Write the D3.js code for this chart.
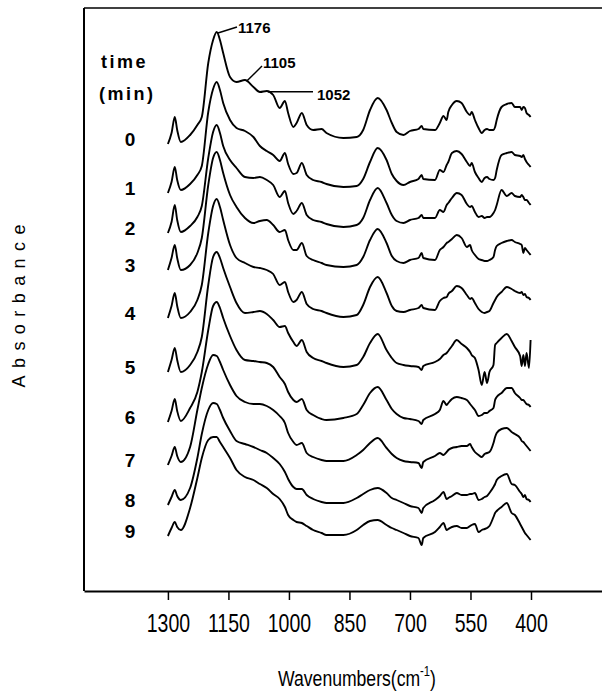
<!DOCTYPE html>
<html><head><meta charset="utf-8">
<script src="https://cdn.jsdelivr.net/npm/d3@7"></script>
<style>html,body{margin:0;padding:0;background:#fff;} svg{display:block;}</style>
</head><body>
<svg id="chart" width="602" height="692"></svg>
<script>
// Wavenumber grid (cm^-1), shared by all spectra
const wavenumbers = [
  1300,1291,1283,1277,1268,1245,1227,1216,1200,1188,
  1179,1171,1163,1146,1130,1109,1088,1072,1055,1039,
  1023,1010,1002,989,981,968,956,940,919,907,
  865,832,816,799,780,758,745,733,716,700,
  679,671,667,638,626,617,609,605,596,584,
  572,559,551,547,539,530,522,515,509,503,
  493,489,485,473,460,448,440,427,423,419,
  415,411,405,401];

// Absorbance (arbitrary units, stacked offsets included) for each time (min)
const spectrum0 = [
  456,467,483,470,458,465,475,483,537,560,
  568,560,547,523,518,520,513,508,509,505,
  492,499,487,473,477,487,475,470,471,467,
  462,463,470,490,502,490,477,468,465,469,
  471,474,471,470,477,484,480,488,495,499,
  497,488,485,488,480,472,467,470,471,470,
  470,473,480,493,496,497,493,493,490,493,
  492,487,485,483];
const spectrum1 = [
  407,418,433,420,410,416,425,434,488,511,
  518,510,497,480,472,469,463,454,449,445,
  439,447,436,426,427,437,425,420,418,416,
  413,414,421,438,452,440,426,419,415,418,
  421,425,421,420,430,428,435,438,447,449,
  446,438,434,437,428,422,418,422,423,421,
  420,422,430,445,447,448,445,444,443,445,
  441,438,435,433];
const spectrum2 = [
  367,378,395,380,368,374,383,394,442,468,
  475,467,454,440,432,423,422,423,420,415,
  403,409,397,386,389,397,385,380,378,376,
  373,375,382,400,412,397,385,379,377,380,
  382,385,382,382,390,388,395,397,402,407,
  405,396,393,394,388,383,384,382,383,383,
  387,390,395,410,404,407,404,403,405,403,
  400,400,397,395];
const spectrum3 = [
  330,342,355,342,330,335,347,362,415,442,
  448,440,427,405,393,382,377,379,380,375,
  368,370,360,350,350,357,344,340,337,335,
  333,335,343,360,371,357,344,339,337,340,
  342,347,342,340,350,353,357,358,361,365,
  362,353,355,350,345,341,340,339,339,340,
  343,350,354,357,359,360,358,356,355,347,
  352,350,347,345];
const spectrum4 = [
  282,294,307,294,282,288,300,315,367,394,
  401,393,380,355,342,337,333,332,330,326,
  315,318,308,298,300,308,296,291,289,287,
  283,285,295,313,323,307,294,289,288,290,
  292,295,292,290,299,302,303,306,309,314,
  312,305,301,302,297,291,288,287,288,289,
  297,300,303,308,313,311,309,307,308,305,
  306,303,302,300];
const spectrum5 = [
  228,240,252,240,228,235,248,263,315,343,
  348,342,332,313,297,287,288,289,286,280,
  273,274,267,258,254,260,248,242,239,237,
  233,235,243,257,266,250,242,237,235,234,
  233,230,234,238,241,245,247,249,254,260,
  256,252,248,245,242,230,215,228,217,228,
  235,255,257,262,266,259,253,244,234,245,
  234,247,232,260];
const spectrum6 = [
  178,189,201,189,179,192,208,228,270,294,
  298,292,282,264,250,240,239,238,237,233,
  223,216,208,200,198,201,190,185,181,180,
  182,186,195,207,213,200,191,186,182,181,
  179,176,180,186,190,199,195,197,201,203,
  202,200,196,194,190,184,185,187,187,189,
  192,200,203,207,212,212,207,202,200,200,
  198,196,195,193];
const spectrum7 = [
  135,144,153,144,138,153,190,212,236,245,
  244,238,230,215,204,198,196,196,194,190,
  184,177,167,158,155,157,147,143,140,139,
  139,145,150,157,162,152,146,142,139,138,
  137,132,138,144,147,145,148,150,152,153,
  154,154,156,153,148,145,143,146,147,148,
  157,163,167,171,172,168,166,162,159,158,
  156,154,151,149];
const spectrum8 = [
  95,103,110,104,100,112,142,166,190,197,
  196,190,182,169,159,156,153,150,147,142,
  136,128,121,113,111,111,105,101,98,97,
  97,102,106,110,112,107,102,100,97,94,
  92,87,92,100,104,108,101,102,104,107,
  105,105,106,106,107,100,101,103,104,107,
  113,116,120,124,126,116,115,108,106,103,
  105,101,100,98];
const spectrum9 = [
  64,72,78,73,70,92,122,142,160,163,
  163,158,153,142,130,123,120,116,112,106,
  101,93,85,80,78,77,74,70,67,65,
  65,70,75,79,80,75,72,70,67,64,
  62,55,62,68,73,77,70,71,73,74,
  72,72,74,75,76,68,70,71,72,74,
  83,87,89,93,97,87,85,76,73,70,
  67,65,62,60];

const timeLabels = ["0","1","2","3","4","5","6","7","8","9"];
const tickValues = [1300,1150,1000,850,700,550,400];
const peakLabels = [1176,1105,1052];

const series = [spectrum0,spectrum1,spectrum2,spectrum3,spectrum4,
                spectrum5,spectrum6,spectrum7,spectrum8,spectrum9];

const svg = d3.select("#chart");
const x = d3.scaleLinear().domain([1508, 224]).range([84, 602]);
const y = d3.scaleLinear().domain([0, 600]).range([600, 0]);
const plotTop = 8, plotBottom = 591, plotLeft = 84, plotRight = 602;

// frame (left + top)
svg.append("line").attr("x1",plotLeft).attr("y1",plotTop).attr("x2",plotLeft).attr("y2",plotBottom)
  .attr("stroke","#000").attr("stroke-width",2);
svg.append("line").attr("x1",plotLeft).attr("y1",plotTop).attr("x2",plotRight).attr("y2",plotTop)
  .attr("stroke","#000").attr("stroke-width",1.5);

// bottom axis
const axis = d3.axisBottom(x).tickValues(tickValues).tickSize(9).tickSizeOuter(0)
  .tickPadding(14).tickFormat(d3.format("d"));
const gx = svg.append("g").attr("transform",`translate(0,${plotBottom})`).call(axis);
gx.select(".domain").attr("stroke","#000").attr("stroke-width",2);
gx.selectAll(".tick line").attr("stroke","#000").attr("stroke-width",1.5);
gx.selectAll(".tick text")
  .attr("font-family","'Liberation Sans', Arial, sans-serif")
  .attr("font-size",25).attr("fill","#000")
  .attr("transform","scale(0.78,1)");

// spectra
const line = d3.line()
  .x((d,i)=>x(wavenumbers[i]))
  .y(d=>y(d))
  .curve(d3.curveMonotoneX);
svg.append("g").selectAll("path").data(series).join("path")
  .attr("d",line).attr("fill","none").attr("stroke","#000")
  .attr("stroke-width",1.9).attr("stroke-linejoin","round");

// time labels
const boldFont = "'Liberation Sans', Arial, Helvetica, sans-serif";
svg.append("text").attr("x",101).attr("y",68).text("time")
  .attr("font-family",boldFont).attr("font-weight","bold").attr("font-size",18)
  .attr("letter-spacing",2.5);
svg.append("text").attr("x",99).attr("y",100).text("(min)")
  .attr("font-family",boldFont).attr("font-weight","bold").attr("font-size",18)
  .attr("letter-spacing",2.5);
svg.append("g").selectAll("text").data(series).join("text")
  .attr("x",130).attr("y",d=>y(d[0])+2)
  .attr("text-anchor","middle")
  .attr("font-family",boldFont).attr("font-weight","bold").attr("font-size",19)
  .text((d,i)=>timeLabels[i]);

// peak annotations on the 0 min spectrum
function valueAt(s, w){
  for(let i=0;i<wavenumbers.length-1;i++){
    const a=wavenumbers[i], b=wavenumbers[i+1];
    if(w<=a && w>=b){ const t=(a-w)/(a-b); return s[i]+(s[i+1]-s[i])*t; }
  }
  return s[0];
}
const annLayout = [
  {ex:237, ey:27, tx:238, ty:33},
  {ex:262, ey:66, tx:263, ty:68},
  {ex:313, ey:null, tx:317, ty:100}
];
peakLabels.forEach((w,i)=>{
  const ax = x(w), ay = y(valueAt(spectrum0,w)) - (i===0?2:0);
  const L = annLayout[i];
  const ey = L.ey===null ? ay : L.ey;
  svg.append("line").attr("x1",ax).attr("y1",ay).attr("x2",L.ex).attr("y2",ey)
    .attr("stroke","#000").attr("stroke-width",1.5);
  svg.append("text").attr("x",L.tx).attr("y",L.ty).text(w)
    .attr("font-family",boldFont).attr("font-weight","bold").attr("font-size",15);
});

// x title
const xt = svg.append("g").attr("transform","translate(357,686) scale(0.8,1)")
  .append("text").attr("text-anchor","middle")
  .attr("font-family","'Liberation Sans', Arial, sans-serif").attr("font-size",22);
xt.append("tspan").text("Wavenumbers(cm");
xt.append("tspan").attr("font-size",14).attr("dy",-10).text("-1");
xt.append("tspan").attr("dy",10).text(")");

// y title
svg.append("text").attr("transform","translate(25,306) rotate(-90)")
  .attr("text-anchor","middle")
  .attr("font-family","'Liberation Sans', Arial, sans-serif")
  .attr("font-size",18).attr("fill","#000")
  .attr("textLength",163).attr("lengthAdjust","spacing")
  .text("Absorbance");
</script>
</body></html>
